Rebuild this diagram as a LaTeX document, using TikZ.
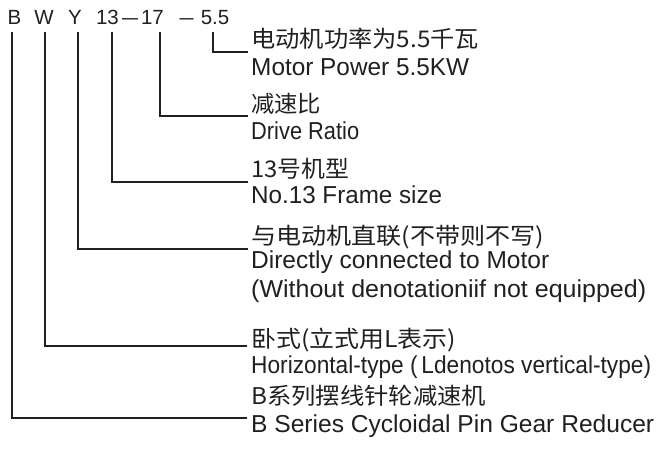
\documentclass[tikz,border=0pt]{standalone}
\usepackage{fontspec}
\setmainfont{Liberation Sans}
\newfontfamily\cjk{Noto Sans CJK SC}
\definecolor{ink}{HTML}{231F20}
\newcommand\fitw[2]{\resizebox{#1pt}{\height}{#2}}
\begin{document}
\begin{tikzpicture}[x=1pt,y=-1pt,
  conn/.style={draw=ink, line width=1.3pt},
  hdr/.style={anchor=base, inner sep=0pt, text=ink, font=\fontsize{20.5}{20}\selectfont},
  zh/.style={anchor=base west, inner sep=0pt, text=ink, font=\cjk\fontsize{23}{24}\selectfont},
  en/.style={anchor=base west, inner sep=0pt, text=ink, font=\fontsize{24.5}{24}\selectfont}]
\useasboundingbox (0,0) rectangle (658,448);
% header
\node[hdr] (tB) at (14.5,24) {B};
\node[hdr] (tW) at (44,24) {W};
\node[hdr] (tY) at (75,24) {Y};
\node[hdr] (t13) at (107.5,24) {13};
\node[hdr] (d1) at (130,24) {\fitw{16}{—}};
\node[hdr] (t17) at (152.5,24) {17};
\node[hdr] (d2) at (186.5,24) {\fitw{14}{—}};
\node[hdr] (t55) at (215,24) {5.5};
% descriptions
\node[zh] (z55) at (251,47) {\fitw{228}{电动机功率为5.5千瓦}};
\node[en] (e55t) at (251,75) {\fitw{218}{Motor Power 5.5KW}};
\node[zh] (z17) at (251,112) {\fitw{70}{减速比}};
\node[en] (e17t) at (251,139) {\fitw{108}{Drive Ratio}};
\node[zh] (z13) at (251,177) {\fitw{98}{13号机型}};
\node[en] (e13t) at (251,203) {\fitw{191}{No.13 Frame size}};
\node[zh] (zY) at (251,244) {\fitw{293}{与电动机直联(不带则不写)}};
\node[en] (eYt) at (251,268) {\fitw{298}{Directly connected to Motor}};
\node[en] (eYt2) at (251,297) {\fitw{395}{(Without denotationiif not equipped)}};
\node[zh] (zW) at (251,347) {\fitw{205}{卧式(立式用L表示)}};
\node[en] (eWt) at (251,373) {\fitw{400}{Horizontal-type (\,Ldenotos vertical-type)}};
\node[zh] (zB) at (251,404) {\fitw{235}{B系列摆线针轮减速机}};
\node[en] (eBt) at (251,432) {\fitw{403}{B Series Cycloidal Pin Gear Reducer}};
% connector ends
\coordinate (e55) at (248,52);
\coordinate (e17) at (248,116);
\coordinate (e13) at (248,182);
\coordinate (eY) at (248,249);
\coordinate (eW) at (247,346);
\coordinate (eB) at (247,418);
% connectors
\draw[conn] ([xshift=-2pt]t55.south) ++(0,8) |- (e55);
\draw[conn] ([xshift=7.5pt]t17.south) ++(0,8) |- (e17);
\draw[conn] ([xshift=4.5pt]t13.south) ++(0,8) |- (e13);
\draw[conn] ([xshift=3pt]tY.south) ++(0,8) |- (eY);
\draw[conn] ([xshift=1pt]tW.south) ++(0,8) |- (eW);
\draw[conn] ([xshift=-2.5pt]tB.south) ++(0,8) |- (eB);
\end{tikzpicture}
\end{document}
